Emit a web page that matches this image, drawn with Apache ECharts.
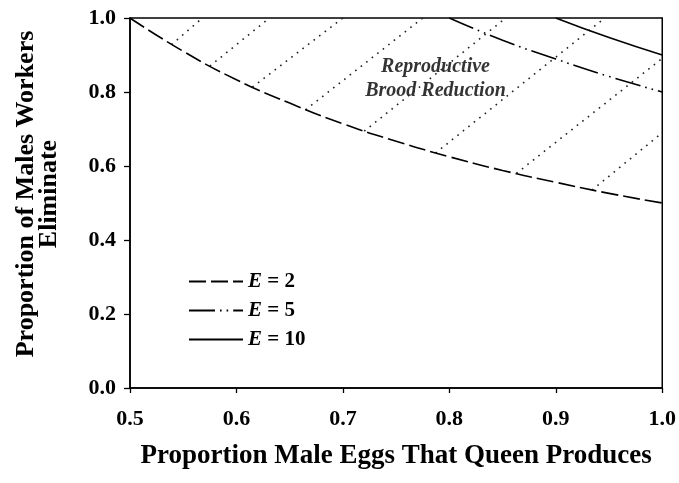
<!DOCTYPE html>
<html>
<head>
<meta charset="utf-8">
<script src="https://cdn.jsdelivr.net/npm/echarts@6/dist/echarts.min.js"></script>
<style>
  html, body { margin: 0; padding: 0; background: #fff; }
  #chart { width: 679px; height: 483px; }
</style>
</head>
<body>
<div id="chart"></div>
<script>
// curve values
const e2X = [0.5, 0.55, 0.6, 0.65, 0.7, 0.75, 0.8, 0.85, 0.9, 0.95, 1.0]
const e2Y = [1.0, 0.91, 0.833, 0.77, 0.714, 0.667, 0.625, 0.588, 0.556, 0.526, 0.5]
const e5X = [0.8, 0.85, 0.9, 0.95, 1.0]
const e5Y = [1.0, 0.94, 0.889, 0.842, 0.8]
const e10X = [0.9, 0.95, 1.0]
const e10Y = [1.0, 0.947, 0.9]

// dotted hatching of the brood reduction region
const hatchX0 = [0.539, 0.575, 0.615, 0.665, 0.72, 0.787, 0.863, 0.934]
const hatchY0 = [0.928, 0.87, 0.813, 0.752, 0.694, 0.635, 0.58, 0.535]
const hatchX1 = [0.568, 0.631, 0.70, 0.775, 0.853, 0.946, 1.0, 1.0]
const hatchY1 = [1.0, 1.0, 1.0, 1.0, 1.0, 1.0, 0.891, 0.69]

const xTicks = [0.5, 0.6, 0.7, 0.8, 0.9, 1.0]
const yTicks = [0.0, 0.2, 0.4, 0.6, 0.8, 1.0]
const seriesNames = ['E2', 'E5', 'E10']
const seriesLabels = ['2', '5', '10']

const font = '"Liberation Serif", "Times New Roman", serif'

const zip = (xs, ys) => xs.map((x, i) => [x, ys[i]])

const chart = echarts.init(document.getElementById('chart'), null, { renderer: 'canvas' })

const hatchSeries = hatchX0.map((x, i) => ({
    type: 'line',
    silent: true,
    symbol: 'none',
    data: [[x, hatchY0[i]], [hatchX1[i], hatchY1[i]]],
    lineStyle: { color: '#222', width: 1.6, type: [1.6, 5.4] },
    animation: false
}))

chart.setOption({
    backgroundColor: '#fff',
    animation: false,
    grid: {
        left: 130,
        right: 15,
        top: 18,
        bottom: 95,
        show: true,
        borderColor: '#000',
        borderWidth: 1.5
    },
    legend: {
        data: seriesNames,
        orient: 'vertical',
        left: 183,
        top: 266,
        itemWidth: 54,
        itemHeight: 10,
        itemGap: 8,
        itemStyle: { color: 'rgba(0,0,0,0)', borderWidth: 0 },
        formatter: name => '{i|E} = ' + seriesLabels[seriesNames.indexOf(name)],
        textStyle: {
            fontFamily: font,
            fontSize: 21,
            fontWeight: 'bold',
            color: '#000',
            lineHeight: 21,
            rich: {
                i: { fontFamily: font, fontSize: 21, fontWeight: 'bold', fontStyle: 'italic', color: '#000', lineHeight: 21 }
            }
        }
    },
    xAxis: {
        type: 'value',
        min: 0.5,
        max: 1.0,
        interval: 0.1,
        name: 'Proportion Male Eggs That Queen Produces',
        nameLocation: 'middle',
        nameGap: 55,
        nameTextStyle: { fontFamily: font, fontSize: 27, fontWeight: 'bold', color: '#000' },
        axisLine: { lineStyle: { color: '#000', width: 1.5 } },
        axisTick: { show: true, length: 5, lineStyle: { color: '#000', width: 1.3 } },
        axisLabel: {
            margin: 20,
            fontFamily: font,
            fontSize: 22,
            fontWeight: 'bold',
            color: '#000',
            formatter: v => xTicks.includes(Math.round(v * 10) / 10) ? v.toFixed(1) : ''
        },
        splitLine: { show: false }
    },
    yAxis: {
        type: 'value',
        min: 0,
        max: 1.0,
        interval: 0.2,
        name: 'Proportion of Males Workers\nEliminate',
        nameLocation: 'middle',
        nameGap: 69,
        nameRotate: 90,
        nameTextStyle: { fontFamily: font, fontSize: 26, fontWeight: 'bold', color: '#000', lineHeight: 23, padding: [0, 0, 0, 18] },
        axisLine: { lineStyle: { color: '#000', width: 1.5 } },
        axisTick: { show: true, length: 6, lineStyle: { color: '#000', width: 1.3 } },
        axisLabel: {
            margin: 14,
            fontFamily: font,
            fontSize: 22,
            fontWeight: 'bold',
            color: '#000',
            formatter: v => yTicks.includes(Math.round(v * 10) / 10) ? v.toFixed(1) : ''
        },
        splitLine: { show: false }
    },
    series: [
        ...hatchSeries,
        {
            name: 'E2',
            type: 'line',
            symbol: 'none',
            smooth: true,
            data: zip(e2X, e2Y),
            lineStyle: { color: '#000', width: 1.6, type: [17, 5] },
            itemStyle: { color: '#000' }
        },
        {
            name: 'E5',
            type: 'line',
            symbol: 'none',
            smooth: true,
            data: zip(e5X, e5Y),
            lineStyle: { color: '#000', width: 1.6, type: [26, 5, 1.6, 5, 1.6, 5] },
            itemStyle: { color: '#000' }
        },
        {
            name: 'E10',
            type: 'line',
            symbol: 'none',
            smooth: true,
            data: zip(e10X, e10Y),
            lineStyle: { color: '#000', width: 1.6 },
            itemStyle: { color: '#000' }
        },
        {
            // region label
            type: 'scatter',
            silent: true,
            symbolSize: 0,
            data: [[0.787, 0.835]],
            label: {
                show: true,
                position: 'inside',
                formatter: 'Reproductive\nBrood Reduction',
                fontFamily: font,
                fontSize: 20,
                fontWeight: 'bold',
                fontStyle: 'italic',
                color: '#000',
                lineHeight: 24,
                align: 'center',
                backgroundColor: '#fff'
            }
        }
    ]
})
</script>
</body>
</html>
